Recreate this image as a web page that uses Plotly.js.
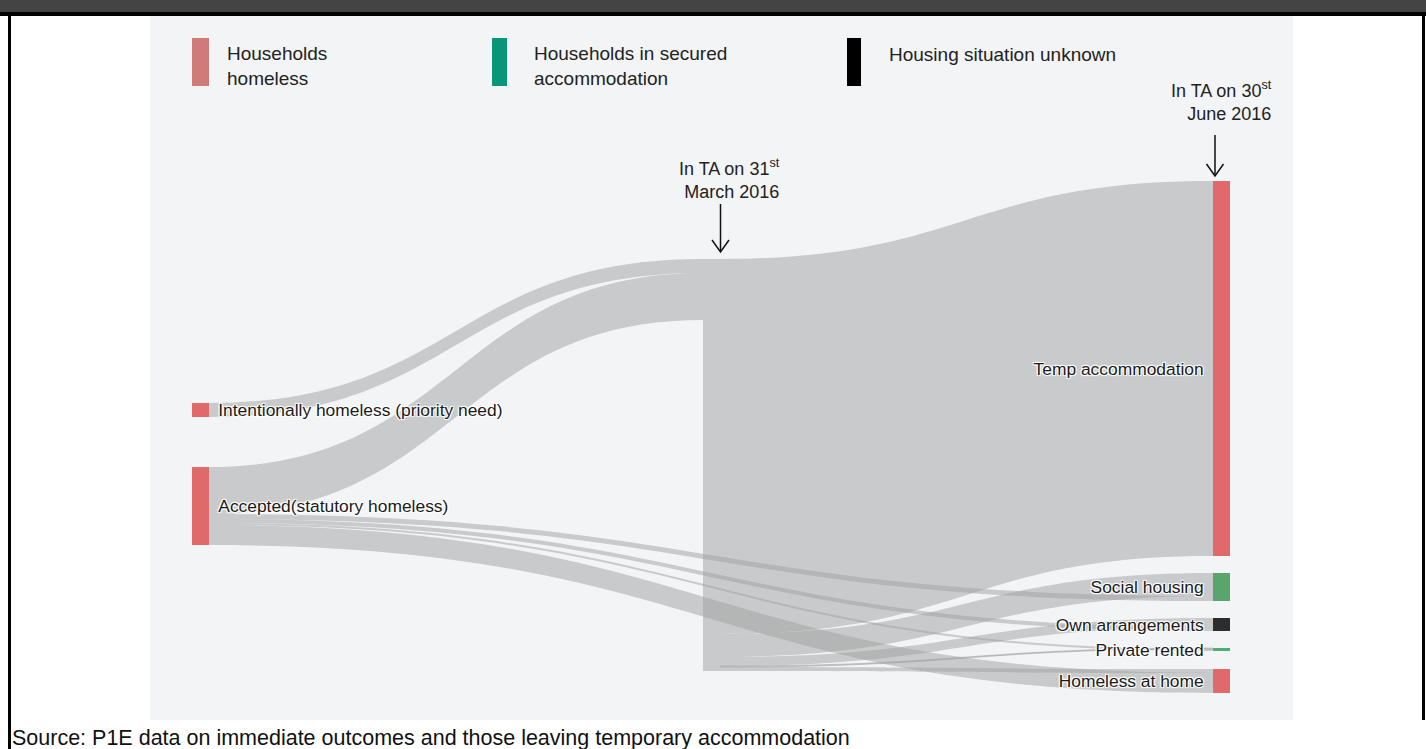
<!DOCTYPE html>
<html><head><meta charset="utf-8">
<script src="https://cdn.plot.ly/plotly-3.0.1.min.js"></script>
<style>html,body{margin:0;padding:0;background:#fff;}#chart{width:1426px;height:749px;}</style>
</head><body><div id="chart"></div>
<script>
// ---------- data ----------
const nodeLabels = ['Intentionally homeless (priority need)', 'Accepted(statutory homeless)', '',
  'Temp accommodation', 'Social housing', 'Own arrangements', 'Private rented', 'Homeless at home'];
const nodeColors = ['#e06a6a', '#e06a6a', 'rgba(160,160,160,0.5)', '#e06a6a', '#5aa56e', '#2d2d2d', '#4fae72', '#e06a6a'];
const linkSource = [0, 1, 1, 1, 1, 1, 2, 2, 2, 2, 2];
const linkTarget = [2, 2, 4, 5, 6, 7, 3, 4, 5, 6, 7];
const linkValue  = [14, 47, 5, 4, 2, 20, 375, 23, 9, 1, 4];
const legendLabels = ['Households<br>homeless', 'Households in secured<br>accommodation', 'Housing situation unknown'];
const legendColors = ['#d07a7a', '#079677', '#000000'];
const stageLabels = ['In TA on 31<sup>st</sup><br>March 2016', 'In TA on 30<sup>st</sup><br>June 2016'];
const sourceNote = 'Source: P1E data on immediate outcomes and those leaving temporary accommodation';

// ---------- layout helpers (pixel -> paper) ----------
const W = 1426, H = 749;
const X = p => p / W, Y = p => 1 - p / H;
const dom = {x0: 192, x1: 1230, y0: 181, y1: 692};
const dw = dom.x1 - dom.x0, dh = dom.y1 - dom.y0;
const thick = 17;
const nodeCx = [200.5, 200.5, 711.5, 1221.5, 1221.5, 1221.5, 1221.5, 1221.5];
const nodeCy = [410, 506, 465, 368.5, 587, 624.5, 649.5, 681];
const gap = '\u00a0\u200a';

const trace = {
  type: 'sankey',
  arrangement: 'fixed',
  hoverinfo: 'none',
  domain: {x: [X(dom.x0), X(dom.x1)], y: [Y(dom.y1), Y(dom.y0)]},
  node: {
    label: nodeLabels.map((l, i) => l ? (i < 2 ? gap + l : l + gap) : ''),
    color: nodeColors,
    thickness: thick,
    pad: 17,
    line: {width: 0},
    x: nodeCx.map(c => (c - dom.x0) / dw),
    y: nodeCy.map(c => (c - dom.y0) / dh),
    hoverinfo: 'none'
  },
  link: {
    source: linkSource,
    target: linkTarget,
    value: linkValue,
    color: 'rgba(160,160,160,0.5)',
    hoverinfo: 'none'
  },
  textfont: {family: 'Liberation Sans, Arial, sans-serif', size: 17.4, color: '#1a1a1a'}
};

const font = 'Liberation Sans, Arial, sans-serif';
const shapes = [
  {type: 'rect', xref: 'paper', yref: 'paper', x0: X(150), x1: X(1293), y0: Y(720), y1: Y(16), fillcolor: '#f3f4f6', line: {width: 0}, layer: 'below'},
  {type: 'rect', xref: 'paper', yref: 'paper', x0: 0, x1: 1, y0: Y(12), y1: 1, fillcolor: '#444444', line: {width: 0}, layer: 'below'},
  {type: 'rect', xref: 'paper', yref: 'paper', x0: 0, x1: 1, y0: Y(16), y1: Y(12), fillcolor: '#000000', line: {width: 0}, layer: 'below'},
  {type: 'rect', xref: 'paper', yref: 'paper', x0: X(8), x1: X(11), y0: 0, y1: Y(12), fillcolor: '#000000', line: {width: 0}, layer: 'below'},
  {type: 'rect', xref: 'paper', yref: 'paper', x0: X(1422), x1: X(1425), y0: Y(720), y1: Y(12), fillcolor: '#000000', line: {width: 0}, layer: 'below'}
];
const legendX = [[192, 209, 228], [492, 507, 535], [847, 861, 890]];
const annotations = [];
legendLabels.forEach((t, i) => {
  shapes.push({type: 'rect', xref: 'paper', yref: 'paper', x0: X(legendX[i][0]), x1: X(legendX[i][1]), y0: Y(86), y1: Y(38),
    fillcolor: legendColors[i], line: {width: 0}});
  annotations.push({xref: 'paper', yref: 'paper', x: X(legendX[i][2] - 3), y: Y(i < 2 ? 66.5 : 55), xanchor: 'left', yanchor: 'middle',
    align: 'left', showarrow: false, text: t, font: {family: font, size: 19, color: '#222'}});
});
const stagePos = [[782, 179], [1274, 101]];
stageLabels.forEach((t, i) => {
  annotations.push({xref: 'paper', yref: 'paper', x: X(stagePos[i][0]), y: Y(stagePos[i][1]), xanchor: 'right', yanchor: 'middle',
    align: 'right', showarrow: false, text: t, font: {family: font, size: 18, color: '#222'}});
});
// arrows drawn as shapes: [x, tailY, tipY]
const arrows = [[720.5, 204, 252], [1215, 135, 176]];
arrows.forEach(a => {
  const [x, t, h] = a;
  shapes.push({type: 'line', xref: 'paper', yref: 'paper', x0: X(x), x1: X(x), y0: Y(t), y1: Y(h - 1), line: {color: '#111', width: 1.5}});
  shapes.push({type: 'path', xref: 'paper', yref: 'paper',
    path: `M${X(x - 8.5)},${Y(h - 12)} L${X(x)},${Y(h)} L${X(x + 8.5)},${Y(h - 12)}`,
    line: {color: '#111', width: 1.5}});
});
annotations.push({xref: 'paper', yref: 'paper', x: X(10), y: Y(738), xanchor: 'left', yanchor: 'middle', showarrow: false,
  text: sourceNote, font: {family: font, size: 21.5, color: '#111'}});

const layout = {
  width: W, height: H,
  margin: {l: 0, r: 0, t: 0, b: 0},
  paper_bgcolor: '#ffffff',
  font: {family: font, color: '#222'},
  shapes: shapes,
  annotations: annotations
};
Plotly.newPlot('chart', [trace], layout, {displayModeBar: false, staticPlot: true});
</script>
</body></html>
